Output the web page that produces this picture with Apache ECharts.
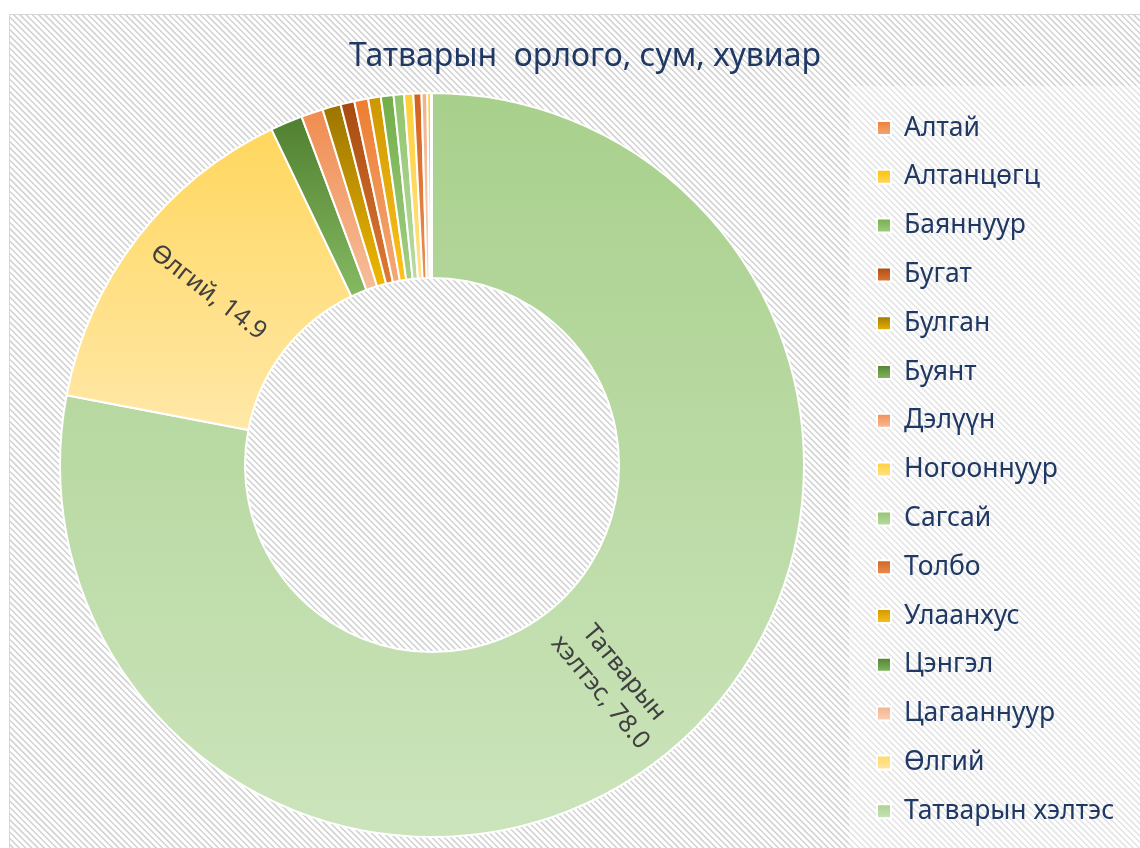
<!DOCTYPE html>
<html>
<head>
<meta charset="utf-8">
<script src="https://cdn.jsdelivr.net/npm/echarts@6/dist/echarts.min.js"></script>
<style>
  html, body { margin: 0; padding: 0; background: #fff; }
  #bg {
    position: absolute; left: 9px; top: 14px; width: 1131px; height: 834px;
    border-top: 1px solid #d6d6d6; border-left: 1px solid #d6d6d6;
    background: repeating-linear-gradient(45deg, #ffffff 0px, #ffffff 1.8px, #d6d6d6 2.3px, #d6d6d6 3.5px, #ffffff 4.0px, #ffffff 4.4px);
  }
  #main { position: absolute; left: 0; top: 0; width: 1140px; height: 848px; }
</style>
</head>
<body>
<div id="bg"></div>
<div id="main"></div>
<script>
// Data (slice order, clockwise from 12 o'clock)
const sliceNames = ['Татварын хэлтэс', 'Өлгий', 'Буянт', 'Дэлүүн', 'Булган', 'Бугат', 'Алтай', 'Улаанхус', 'Баяннуур', 'Сагсай', 'Ногооннуур', 'Толбо', 'Цагааннуур', 'Алтанцөгц', 'Цэнгэл'];
const sliceValues = [78.0, 14.9, 1.4, 0.95, 0.8, 0.6, 0.6, 0.55, 0.55, 0.45, 0.4, 0.35, 0.25, 0.15, 0.05];
// Legend order
const legendNames = ['Алтай', 'Алтанцөгц', 'Баяннуур', 'Бугат', 'Булган', 'Буянт', 'Дэлүүн', 'Ногооннуур', 'Сагсай', 'Толбо', 'Улаанхус', 'Цэнгэл', 'Цагааннуур', 'Өлгий', 'Татварын хэлтэс'];
const titleText = 'Татварын  орлого, сум, хувиар';

// Styles
const colorMap = {
  'Алтай': ['#ED7D31', '#F4A877'],
  'Алтанцөгц': ['#FFC000', '#FFD966'],
  'Баяннуур': ['#70AD47', '#A3CF86'],
  'Бугат': ['#A64A10', '#E07A35'],
  'Булган': ['#9A7400', '#F0B800'],
  'Буянт': ['#4F7F30', '#86BA62'],
  'Дэлүүн': ['#F08C50', '#F6BE9A'],
  'Ногооннуур': ['#FFCF3A', '#FFE38A'],
  'Сагсай': ['#8FC46A', '#BBDBA5'],
  'Толбо': ['#D0621E', '#EE8F52'],
  'Улаанхус': ['#CC9600', '#FFC21A'],
  'Цэнгэл': ['#4F7F30', '#86BA62'],
  'Цагааннуур': ['#F4B08A', '#F9D2BA'],
  'Өлгий': ['#FFD75E', '#FFE8A8'],
  'Татварын хэлтэс': ['#A8D08C', '#CCE4BC']
};
function grad(name) {
  const c = colorMap[name];
  return { type: 'linear', x: 0, y: 0, x2: 0, y2: 1, colorStops: [{ offset: 0, color: c[0] }, { offset: 1, color: c[1] }] };
}

const seriesData = sliceNames.map((n, i) => ({
  name: n,
  value: sliceValues[i],
  itemStyle: { color: grad(n) },
  label: { show: sliceValues[i] > 5 }
}));

const fontFam = '"Noto Sans", "Open Sans", sans-serif';
const chart = echarts.init(document.getElementById('main'), null, { renderer: 'canvas' });
chart.setOption({
  backgroundColor: 'transparent',
  animation: false,
  title: {
    text: titleText,
    left: 580, top: 36, textAlign: 'center',
    textStyle: { color: '#1F3864', fontSize: 32, fontWeight: 'normal', fontFamily: fontFam }
  },
  legend: {
    orient: 'vertical',
    data: legendNames,
    left: 849, top: 86,
    height: 800,
    padding: [27, 30, 26, 27],
    backgroundColor: 'rgba(255,255,255,0.4)',
    icon: 'rect',
    itemWidth: 14, itemHeight: 14,
    itemGap: 18.8,
    textStyle: { color: '#1F3864', fontSize: 26.5, lineHeight: 30, fontFamily: fontFam, padding: [0, 0, 0, 8] }
  },
  series: [{
    type: 'pie',
    center: [432, 465],
    radius: [187, 372],
    startAngle: 90,
    clockwise: true,
    avoidLabelOverlap: false,
    itemStyle: { borderColor: '#ffffff', borderWidth: 2 },
    label: {
      position: 'inside',
      rotate: 'radial',
      color: '#404040',
      fontSize: 25,
      lineHeight: 31,
      fontFamily: fontFam,
      formatter: p => p.name.replace(' ', '\n') + ', ' + p.value.toFixed(1)
    },
    labelLine: { show: false },
    emphasis: { disabled: true },
    data: seriesData
  }]
});
</script>
</body>
</html>
